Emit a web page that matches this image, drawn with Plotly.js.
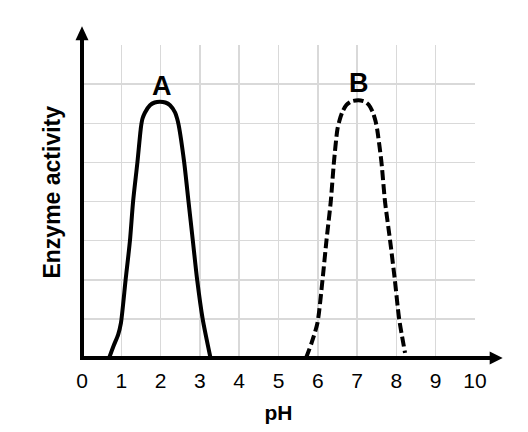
<!DOCTYPE html>
<html>
<head>
<meta charset="utf-8">
<script src="https://cdn.plot.ly/plotly-3.0.1.min.js"></script>
<style>html,body{margin:0;padding:0;background:#fff;}#chart{width:528px;height:432px;}</style>
</head>
<body>
<div id="chart"></div>
<script>
// Enzyme A (solid)
const phA = [0.69, 0.80, 0.92, 0.99, 1.11, 1.22, 1.30, 1.41, 1.50, 1.54, 1.60, 1.73, 1.85, 1.98, 2.12, 2.24, 2.37, 2.42, 2.46, 2.60, 2.71, 2.82, 2.93, 3.07, 3.27];
const actA = [0.00, 0.30, 0.60, 0.89, 2.00, 3.00, 4.00, 5.00, 5.90, 6.12, 6.27, 6.46, 6.53, 6.55, 6.53, 6.46, 6.27, 6.12, 5.95, 5.00, 4.00, 3.00, 2.00, 1.00, 0.00];
// Enzyme B (dashed)
const phB = [5.70, 5.84, 5.99, 6.12, 6.22, 6.33, 6.41, 6.50, 6.56, 6.63, 6.73, 6.86, 7.03, 7.18, 7.29, 7.40, 7.47, 7.51, 7.62, 7.71, 7.84, 7.96, 8.07, 8.22];
const actB = [0.00, 0.38, 0.89, 2.00, 3.00, 4.00, 5.00, 5.85, 6.10, 6.30, 6.47, 6.56, 6.59, 6.56, 6.48, 6.28, 6.05, 5.85, 5.00, 4.00, 3.00, 2.00, 1.00, 0.13];
// Curve labels
const labelText = ["A", "B"];
const labelX = [2.04, 7.04];
const labelY = [6.96, 7.02];
// Axis ticks
const xTicks = [0, 1, 2, 3, 4, 5, 6, 7, 8, 9, 10];
const xTickText = ["0", "1", "2", "3", "4", "5", "6", "7", "8", "9", "10"];
const xTitle = "pH";
const yTitle = "Enzyme activity";

const FONT = "'Liberation Sans', Arial, sans-serif";

const traces = [
  {x: phA, y: actA, mode: "lines", line: {color: "#000", width: 4, shape: "spline", smoothing: 0.7}, hoverinfo: "skip", cliponaxis: false},
  {x: phB, y: actB, mode: "lines", line: {color: "#000", width: 4, dash: "10px,4px", shape: "spline", smoothing: 0.7}, hoverinfo: "skip", cliponaxis: false}
];

const annotations = labelText.map((t, i) => ({
  x: labelX[i], y: labelY[i], xref: "x", yref: "y", text: t, showarrow: false,
  font: {family: FONT, size: 27, color: "#000", weight: "bold"}, xanchor: "center", yanchor: "middle"
}));
annotations.push({
  x: -0.076, y: 0.529, xref: "paper", yref: "paper", text: yTitle, showarrow: false, textangle: -90,
  font: {family: FONT, size: 23, color: "#000", weight: "bold"}, xanchor: "center", yanchor: "middle"
});

const shapes = [
  {type: "line", xref: "paper", yref: "paper", x0: -0.005, x1: 1.05, y0: 0, y1: 0, line: {color: "#000", width: 4}, layer: "above"},
  {type: "line", xref: "paper", yref: "paper", x0: 0, x1: 0, y0: -0.006, y1: 1.03, line: {color: "#000", width: 4}, layer: "above"},
  {type: "path", xref: "paper", yref: "paper", xsizemode: "pixel", ysizemode: "pixel", xanchor: 1.0705, yanchor: 0,
   path: "M0,0 L-13,6.5 L-13,-6.5 Z", fillcolor: "#000", line: {color: "#000", width: 0}, layer: "above"},
  {type: "path", xref: "paper", yref: "paper", xsizemode: "pixel", ysizemode: "pixel", xanchor: 0, yanchor: 1.06,
   path: "M0,0 L-6.5,-14 L6.5,-14 Z", fillcolor: "#000", line: {color: "#000", width: 0}, layer: "above"}
];

const layout = {
  width: 528, height: 432,
  margin: {l: 82, r: 53, t: 45, b: 73.5, pad: 0},
  paper_bgcolor: "#fff", plot_bgcolor: "#fff",
  showlegend: false,
  xaxis: {
    range: [0, 10], tickvals: xTicks, ticktext: xTickText, ticks: "", showline: false, zeroline: false,
    showgrid: true, gridcolor: "#d9d9d9", gridwidth: 1.5,
    tickfont: {family: FONT, size: 21, color: "#000"}, ticklabelstandoff: 8,
    title: {text: xTitle, font: {family: FONT, size: 21, color: "#000", weight: "bold"}, standoff: 14},
    fixedrange: true
  },
  yaxis: {
    range: [0, 8], dtick: 1, tick0: 0, showticklabels: false, ticks: "", showline: false, zeroline: false,
    showgrid: true, gridcolor: "#d9d9d9", gridwidth: 1.5, fixedrange: true
  },
  annotations: annotations,
  shapes: shapes
};

Plotly.newPlot("chart", traces, layout, {displayModeBar: false, staticPlot: true});
</script>
</body>
</html>
